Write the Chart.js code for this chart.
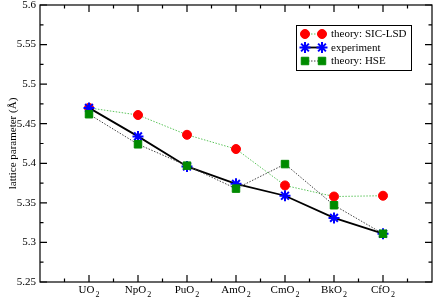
<!DOCTYPE html>
<html>
<head>
<meta charset="utf-8">
<script src="https://cdn.jsdelivr.net/npm/chart.js@4/dist/chart.umd.min.js"></script>
<style>
  html, body { margin: 0; padding: 0; background: #fff; }
</style>
</head>
<body>
<canvas id="myChart" width="436" height="298"></canvas>
<script>
const categories = ["UO2", "NpO2", "PuO2", "AmO2", "CmO2", "BkO2", "CfO2"];
const sicLsd = [5.470, 5.461, 5.436, 5.418, 5.372, 5.358, 5.359];
const experiment = [5.470, 5.434, 5.396, 5.374, 5.359, 5.331, 5.311];
const hse = [5.462, 5.424, 5.397, 5.368, 5.399, 5.347, 5.311];
const yTicks = [5.25, 5.3, 5.35, 5.4, 5.45, 5.5, 5.55, 5.6];
const seriesNames = ["theory: SIC-LSD", "experiment", "theory: HSE"];

const serif = "'Liberation Serif', 'Times New Roman', serif";

const toPoints = (arr) => arr.map((v, i) => ({ x: i + 1, y: v }));

// frame, inward ticks, x labels with subscript, legend box
const decorations = {
  id: "decorations",
  afterDraw(chart) {
    const ctx = chart.ctx;
    const a = chart.chartArea;
    const xs = chart.scales.x;
    const ys = chart.scales.y;
    ctx.save();
    ctx.strokeStyle = "#000";
    ctx.lineWidth = 1.2;
    ctx.strokeRect(a.left, a.top, a.right - a.left, a.bottom - a.top);

    ctx.beginPath();
    for (let i = 0; i < categories.length + 1; i++) {
      const major = xs.getPixelForValue(i + 1);
      const minor = xs.getPixelForValue(i + 0.5);
      if (i < categories.length) {
        ctx.moveTo(major, a.bottom); ctx.lineTo(major, a.bottom - 7);
        ctx.moveTo(major, a.top); ctx.lineTo(major, a.top + 7);
      }
      ctx.moveTo(minor, a.bottom); ctx.lineTo(minor, a.bottom - 3.5);
      ctx.moveTo(minor, a.top); ctx.lineTo(minor, a.top + 3.5);
    }
    yTicks.forEach((v, i) => {
      const p = ys.getPixelForValue(v);
      ctx.moveTo(a.left, p); ctx.lineTo(a.left + 7, p);
      ctx.moveTo(a.right, p); ctx.lineTo(a.right - 7, p);
      if (i < yTicks.length - 1) {
        const m = ys.getPixelForValue(v + 0.025);
        ctx.moveTo(a.left, m); ctx.lineTo(a.left + 3.5, m);
        ctx.moveTo(a.right, m); ctx.lineTo(a.right - 3.5, m);
      }
    });
    ctx.stroke();

    // category labels, trailing "2" as subscript
    ctx.fillStyle = "#000";
    ctx.textBaseline = "alphabetic";
    ctx.textAlign = "left";
    categories.forEach((c, i) => {
      const base = c.slice(0, -1);
      const sub = c.slice(-1);
      ctx.font = "11px " + serif;
      const wb = ctx.measureText(base).width;
      ctx.font = "8px " + serif;
      const ws = ctx.measureText(sub).width;
      const x0 = xs.getPixelForValue(i + 1) - (wb + ws + 1) / 2;
      ctx.font = "11px " + serif;
      ctx.fillText(base, x0, 293);
      ctx.font = "8px " + serif;
      ctx.fillText(sub, x0 + wb + 1, 297);
    });

    // legend
    const bx = 296, by = 25, bw = 115, bh = 45;
    ctx.fillStyle = "#fff";
    ctx.fillRect(bx, by, bw, bh);
    ctx.lineWidth = 1;
    ctx.strokeStyle = "#000";
    ctx.strokeRect(bx + 0.5, by + 0.5, bw, bh);
    const rows = [34, 47.5, 61];
    seriesNames.forEach((name, r) => {
      const ds = chart.data.datasets.find((d) => d.label === name);
      const y = rows[r];
      ctx.save();
      ctx.strokeStyle = ds.borderColor;
      ctx.lineWidth = ds.borderWidth;
      ctx.setLineDash(ds.borderDash || []);
      ctx.beginPath();
      ctx.moveTo(305, y); ctx.lineTo(322, y);
      ctx.stroke();
      ctx.setLineDash([]);
      ctx.fillStyle = ds.pointBackgroundColor;
      ctx.strokeStyle = ds.pointBorderColor;
      ctx.lineWidth = ds.pointBorderWidth;
      const opts = { pointStyle: ds.pointStyle, radius: ds.pointRadius, rotation: 0, borderWidth: ds.pointBorderWidth };
      Chart.helpers.drawPoint(ctx, opts, 305, y);
      Chart.helpers.drawPoint(ctx, opts, 322, y);
      ctx.restore();
      ctx.fillStyle = "#000";
      ctx.font = "11px " + serif;
      ctx.textBaseline = "middle";
      ctx.fillText(name, 331, y + 0.5);
    });
    ctx.restore();
  },
};

const info = {
  datasets: [
    {
      label: seriesNames[0],
      data: toPoints(sicLsd),
      order: 3,
      borderColor: "#5cc45c",
      borderWidth: 1,
      borderDash: [1.5, 1.5],
      pointStyle: "circle",
      pointRadius: 4.5,
      pointBackgroundColor: "#ff0000",
      pointBorderColor: "#ff0000",
      pointBorderWidth: 1,
    },
    {
      label: seriesNames[1],
      data: toPoints(experiment),
      order: 2,
      borderColor: "#000",
      borderWidth: 1.8,
      pointStyle: "star",
      pointRadius: 5.5,
      pointBackgroundColor: "#0000ff",
      pointBorderColor: "#0000ff",
      pointBorderWidth: 2,
    },
    {
      label: seriesNames[2],
      data: toPoints(hse),
      order: 1,
      borderColor: "#444",
      borderWidth: 1,
      borderDash: [1.5, 1.5],
      pointStyle: "rect",
      pointRadius: 5.3,
      pointBackgroundColor: "#008b00",
      pointBorderColor: "#008b00",
      pointBorderWidth: 1,
    },
  ],
};

const options = {
  responsive: false,
  animation: false,
  layout: { autoPadding: false, padding: { top: 5, right: 4, left: 0, bottom: 0 } },
  scales: {
    x: {
      type: "linear",
      min: 0,
      max: 8,
      grid: { display: false, drawTicks: false },
      border: { display: false },
      ticks: { display: false },
      afterFit: (s) => { s.height = 16; s.paddingLeft = 0; s.paddingRight = 0; },
    },
    y: {
      min: 5.25,
      max: 5.6,
      grid: { display: false, drawTicks: false },
      border: { display: false },
      afterBuildTicks: (s) => { s.ticks = yTicks.map((v) => ({ value: v })); },
      ticks: {
        padding: 4,
        color: "#000",
        font: { family: serif, size: 11 },
        callback: (v) => String(parseFloat(v.toFixed(2))),
      },
      title: {
        display: true,
        text: "lattice parameter (Å)",
        color: "#000",
        font: { family: serif, size: 11 },
        padding: { top: 7, bottom: 0 },
      },
      afterFit: (s) => { s.width = 40; s.paddingTop = 0; s.paddingBottom = 0; },
    },
  },
  plugins: {
    legend: { display: false },
    tooltip: { enabled: false },
  },
};

const config = {
  type: "line",
  data: info,
  options,
  plugins: [decorations],
};
const myChart = new Chart(document.getElementById("myChart"), config);
</script>
</body>
</html>
